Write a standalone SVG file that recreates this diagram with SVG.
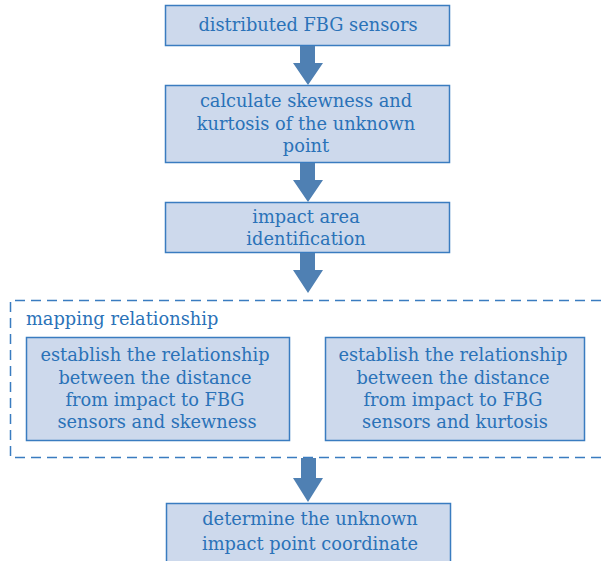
<svg xmlns="http://www.w3.org/2000/svg" width="601" height="561" viewBox="0 0 601 561">
<defs>
<style>
.box{fill:#cdd9ec;stroke:#3a7cc0;stroke-width:1.5}
.t{font-family:"DejaVu Serif","Liberation Serif",serif;font-size:17.8px;fill:#2a72b8;text-anchor:middle}
.arr{fill:#4f80b3}
</style>
</defs>
<rect width="601" height="561" fill="#ffffff"/>
<g id="n1"><rect class="box" x="165.5" y="5.5" width="284" height="40"/>
<text class="t" x="308" y="31">distributed FBG sensors</text></g>
<g id="n2"><rect class="box" x="165.5" y="85.5" width="284" height="77"/>
<text class="t" x="306" y="107">calculate skewness and</text>
<text class="t" x="306" y="130">kurtosis of the unknown</text>
<text class="t" x="306" y="152">point</text></g>
<g id="n3"><rect class="box" x="165.5" y="202.5" width="284" height="50"/>
<text class="t" x="306" y="223">impact area</text>
<text class="t" x="306" y="245">identification</text></g>
<g id="group">
<path d="M601 300.5 H10.5 V457.5 H601" fill="none" stroke="#3a7cc0" stroke-width="1.5" stroke-dasharray="10,6"/>
<text class="t" x="26" y="325" style="text-anchor:start">mapping relationship</text></g>
<g id="n4"><rect class="box" x="26.5" y="337.5" width="263" height="103"/>
<text class="t" x="155" y="361">establish the relationship</text>
<text class="t" x="155" y="384">between the distance</text>
<text class="t" x="155" y="406">from impact to FBG</text>
<text class="t" x="157" y="428">sensors and skewness</text></g>
<g id="n5"><rect class="box" x="325.5" y="337.5" width="259" height="103"/>
<text class="t" x="453" y="361">establish the relationship</text>
<text class="t" x="453" y="384">between the distance</text>
<text class="t" x="453" y="406">from impact to FBG</text>
<text class="t" x="455" y="428">sensors and kurtosis</text></g>
<g id="n6"><rect class="box" x="166.5" y="503.5" width="284" height="62"/>
<text class="t" x="310" y="525">determine the unknown</text>
<text class="t" x="310" y="550">impact point coordinate</text></g>
<g id="connectors">
<path class="arr" d="M300 46 H315 V63 H323 L308 85 L293 63 H300 Z"/>
<path class="arr" d="M300 163 H315 V180 H323 L308 202 L293 180 H300 Z"/>
<path class="arr" d="M300 253 H315 V270 H323 L308 293 L293 270 H300 Z"/>
<path class="arr" d="M301 458 H316 V478 H323 L308 502 L293 478 H301 Z"/>
</g>
</svg>
